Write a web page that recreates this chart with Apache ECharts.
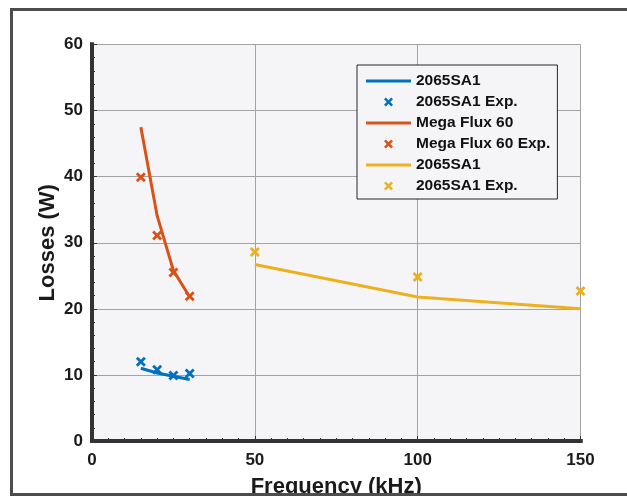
<!DOCTYPE html>
<html>
<head>
<meta charset="utf-8">
<script src="https://cdn.jsdelivr.net/npm/echarts@6/dist/echarts.min.js"></script>
<style>
  html, body { margin: 0; padding: 0; background: #ffffff; }
  #chart { width: 627px; height: 496px; }
</style>
</head>
<body>
<div id="chart"></div>
<script>
// Frequencies (kHz)
const freqLow = [15, 20, 25, 30];
const freqHigh = [50, 100, 150];

// Losses (W): model curves and measured points
const sa1ModelLow = [11.0, 10.3, 9.8, 9.3];
const sa1ExpLow = [12.0, 10.8, 9.9, 10.2];
const megaModel = [47.5, 34.1, 25.8, 21.8];
const megaExp = [39.9, 31.1, 25.5, 21.9];
const sa1ModelHigh = [26.7, 21.8, 20.0];
const sa1ExpHigh = [28.6, 24.8, 22.7];

// Axis ticks
const xTicks = { min: 0, max: 150, step: 50 };
const yTicks = { min: 0, max: 60, step: 10 };

// Legend labels (trailing space keeps the two 2065SA1 entries distinct)
const names = ['2065SA1', '2065SA1 Exp.', 'Mega Flux 60', 'Mega Flux 60 Exp.', '2065SA1 ', '2065SA1 Exp. '];

const BLUE = '#0072BD', ORANGE = '#D95319', YELLOW = '#EDB120';
const FONT = "'Liberation Sans', Arial, sans-serif";
const CROSS = 'path://M0,2 L2,0 L5,3 L8,0 L10,2 L7,5 L10,8 L8,10 L5,7 L2,10 L0,8 L3,5 Z';
const DASH = 'path://M0,0 L45,0 L45,3 L0,3 Z';

const pairs = (xs, ys) => xs.map((x, i) => [x, ys[i]]);

function lineSeries(name, xs, ys, color) {
  return {
    name, type: 'line', data: pairs(xs, ys), symbol: 'none', z: 2,
    lineStyle: { color, width: 3 }, itemStyle: { color }, animation: false
  };
}
function expSeries(name, xs, ys, color) {
  return {
    name, type: 'scatter', data: pairs(xs, ys), symbol: CROSS, symbolSize: 10,
    clip: false, z: 6, itemStyle: { color, opacity: 1 }, animation: false
  };
}

const borderLine = { show: true, lineStyle: { color: '#333333', width: 4, cap: 'square' } };

const chart = echarts.init(document.getElementById('chart'), null, { renderer: 'canvas' });
chart.setOption({
  backgroundColor: '#ffffff',
  animation: false,
  grid: {
    left: 92, right: 46.5, top: 44.5, bottom: 55,
    outerBoundsMode: 'none', containLabel: false,
    show: true, backgroundColor: '#f5f5f7', borderWidth: 0
  },
  xAxis: [{
    type: 'value', min: xTicks.min, max: xTicks.max, interval: xTicks.step,
    name: 'Frequency (kHz)', nameLocation: 'middle', nameGap: 35, nameMoveOverlap: false,
    nameTextStyle: { fontFamily: FONT, fontWeight: 'bold', fontSize: 22, color: '#1a1a1a' },
    axisLine: borderLine,
    axisTick: { show: true, inside: true, length: 5, lineStyle: { color: '#333', width: 1 } },
    minorTick: { show: true, splitNumber: 10, length: 3, lineStyle: { color: '#333', width: 1 } },
    axisLabel: { margin: 11, fontFamily: FONT, fontWeight: 'bold', fontSize: 17, color: '#1a1a1a' },
    splitLine: { show: true, lineStyle: { color: '#a3a3a3', width: 1 } }
  }, {
    type: 'value', position: 'top', min: xTicks.min, max: xTicks.max, z: 4,
    axisLine: borderLine, axisTick: { show: false }, axisLabel: { show: false }, splitLine: { show: false }
  }],
  yAxis: [{
    type: 'value', min: yTicks.min, max: yTicks.max, interval: yTicks.step,
    name: 'Losses (W)', nameLocation: 'middle', nameGap: 33, nameMoveOverlap: false,
    nameTextStyle: { fontFamily: FONT, fontWeight: 'bold', fontSize: 22, color: '#1a1a1a' },
    axisLine: borderLine,
    axisTick: { show: true, inside: true, length: 5, lineStyle: { color: '#333', width: 1 } },
    minorTick: { show: true, splitNumber: 5, length: 3, lineStyle: { color: '#333', width: 1 } },
    axisLabel: { margin: 9, fontFamily: FONT, fontWeight: 'bold', fontSize: 17, color: '#1a1a1a' },
    splitLine: { show: true, lineStyle: { color: '#a3a3a3', width: 1 } }
  }, {
    type: 'value', position: 'right', min: yTicks.min, max: yTicks.max, z: 4,
    axisLine: borderLine, axisTick: { show: false }, axisLabel: { show: false }, splitLine: { show: false }
  }],
  legend: {
    orient: 'vertical', left: 357, top: 65,
    padding: [8, 7, 5, 9],
    backgroundColor: '#f5f5f7', borderColor: '#262626', borderWidth: 1,
    itemWidth: 45, itemHeight: 9, itemGap: 5,
    textStyle: { fontFamily: FONT, fontWeight: 'bold', fontSize: 15.5, color: '#111' },
    data: names.map((name, i) => (i % 2 === 0 ? { name, icon: DASH } : { name }))
  },
  series: [
    lineSeries(names[0], freqLow, sa1ModelLow, BLUE),
    expSeries(names[1], freqLow, sa1ExpLow, BLUE),
    lineSeries(names[2], freqLow, megaModel, ORANGE),
    expSeries(names[3], freqLow, megaExp, ORANGE),
    lineSeries(names[4], freqHigh, sa1ModelHigh, YELLOW),
    expSeries(names[5], freqHigh, sa1ExpHigh, YELLOW)
  ],
  graphic: [{
    // outer figure frame
    type: 'rect', z: 100, silent: true,
    shape: { x: 11.5, y: 9.5, width: 700, height: 485 },
    style: { fill: null, stroke: '#4d4d4d', lineWidth: 3 }
  }]
});
</script>
</body>
</html>
